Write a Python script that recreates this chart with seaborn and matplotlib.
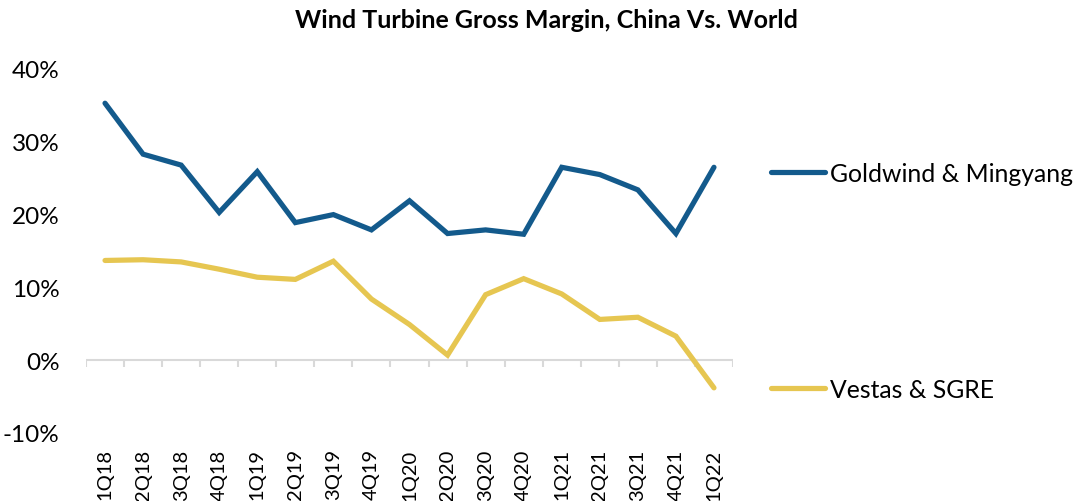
import numpy as np
import pandas as pd
import matplotlib
import matplotlib.pyplot as plt
import seaborn as sns

sns.set_style("white")
plt.rcParams['font.family'] = ['Lato', 'DejaVu Sans']
plt.rcParams['text.color'] = '#000000'

quarters = ["1Q18", "2Q18", "3Q18", "4Q18", "1Q19", "2Q19", "3Q19", "4Q19",
            "1Q20", "2Q20", "3Q20", "4Q20", "1Q21", "2Q21", "3Q21", "4Q21", "1Q22"]
goldwind = [35.3, 28.3, 26.8, 20.3, 25.9, 18.9, 20.0, 17.9,
            21.9, 17.4, 17.9, 17.3, 26.5, 25.5, 23.4, 17.4, 26.5]
vestas = [13.7, 13.8, 13.5, 12.5, 11.4, 11.1, 13.6, 8.4,
          4.9, 0.7, 9.0, 11.2, 9.1, 5.6, 5.9, 3.3, -3.8]
series_names = ["Goldwind & Mingyang", "Vestas & SGRE"]
colors = {"Goldwind & Mingyang": "#135A8C", "Vestas & SGRE": "#E6C651"}

df = pd.concat([
    pd.DataFrame({"quarter": quarters, "margin": goldwind, "series": series_names[0]}),
    pd.DataFrame({"quarter": quarters, "margin": vestas, "series": series_names[1]}),
])

fig = plt.figure(figsize=(10.76, 5.02), dpi=100)
ax = fig.add_axes([86/1076, 68/502, 647/1076, 364/502])

sns.lineplot(data=df, x="quarter", y="margin", hue="series", palette=colors,
             sort=False, linewidth=3.75, ax=ax, legend=False,
             solid_capstyle='round', solid_joinstyle='miter')

ax.set_xlim(-0.5, len(quarters) - 0.5)
ax.set_ylim(-10, 40)
ax.set_yticks([-10, 0, 10, 20, 30, 40])
ax.set_yticklabels([f"{v}%" for v in [-10, 0, 10, 20, 30, 40]])
ax.set_xticks(range(len(quarters)))
ax.set_xticklabels(quarters, rotation=90)
ax.tick_params(axis='y', length=0, pad=19, labelsize=17.5, colors='#000000')
ax.tick_params(axis='x', length=0, pad=11, labelsize=14.5, colors='#000000')
for s in ax.spines.values():
    s.set_visible(False)
ax.set_xlabel("")
ax.set_ylabel("")

# zero axis with category-boundary ticks
ax.axhline(0, color='#D9D9D9', lw=1.5, zorder=0)
bounds = np.arange(len(quarters) + 1) - 0.5
ax.vlines(bounds, -1.0, 0, color='#D9D9D9', lw=1.5, zorder=0)

# legend to the right
handles = [matplotlib.lines.Line2D([], [], color=colors[n], lw=3.75, solid_capstyle='round')
           for n in series_names]
fig.legend(handles, series_names, loc='upper left', bbox_to_anchor=(771/1076, 1 - 163/502),
           frameon=False, fontsize=17.8, handlelength=2.2, handletextpad=0.2,
           labelspacing=7.8, borderaxespad=0, borderpad=0, labelcolor='#000000')

fig.suptitle("Wind Turbine Gross Margin, China Vs. World", fontsize=18,
             fontweight='bold', x=546/1076, y=1 - 9/502, va='top', color='#000000')

fig.savefig("out.png", dpi=100)
